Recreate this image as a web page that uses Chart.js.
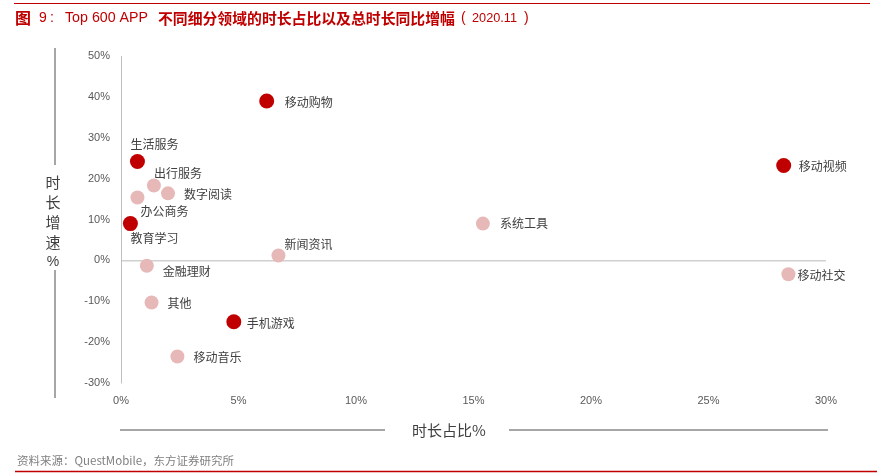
<!DOCTYPE html>
<html lang="zh">
<head>
    <meta charset="UTF-8">
    <title>Top 600 APP 不同细分领域的时长占比以及总时长同比增幅</title>
    <script src="https://cdn.jsdelivr.net/npm/chart.js"></script>
    <style>
        html, body { margin: 0; padding: 0; background: #fff; }
        #wrap { width: 883px; height: 474px; position: relative; }
    </style>
</head>
<body>
<div id="wrap"><canvas id="grafico"></canvas></div>
<script>
    // 数据：细分领域、时长占比(%)、时长同比增速(%)
    const categorias = ['移动购物', '生活服务', '出行服务', '数字阅读', '办公商务', '教育学习', '新闻资讯',
        '金融理财', '其他', '手机游戏', '移动音乐', '系统工具', '移动视频', '移动社交'];
    const shareX = [6.2, 0.7, 1.4, 2.0, 0.7, 0.4, 6.7, 1.1, 1.3, 4.8, 2.4, 15.4, 28.2, 28.4];
    const growthY = [39.0, 24.2, 18.3, 16.4, 15.4, 9.0, 1.2, -1.3, -10.3, -15.0, -23.5, 9.0, 23.2, -3.4];
    // 重点领域（深红色）
    const destaque = [true, true, false, false, false, true, false, false, false, true, false, false, true, false];
    const xTicks = [0, 5, 10, 15, 20, 25, 30];
    const yTicks = [-30, -20, -10, 0, 10, 20, 30, 40, 50];

    // 标签相对点的位置 (像素)
    const labelOffsets = [[18, 1], [-7, -17], [0, -12], [16, 1], [3, 14], [0, 15], [6, -11],
        [16, 6], [16, 1], [13, 2], [16, 1], [17, 0], [15, 1], [9, 1]];

    const RED = '#C00000';
    const PINK = '#E6B9B8';
    const cjk = '"Noto Sans CJK SC", "Liberation Sans", sans-serif';
    const latin = '"Liberation Sans", Arial, sans-serif';

    const pontos = shareX.map((x, i) => ({ x: x, y: growthY[i] }));

    // 按目标宽度写文字
    function textoLargura(ctx, texto, estilo, familia, x, y, largura) {
        ctx.font = estilo + ' 100px ' + familia;
        const tam = 100 * largura / ctx.measureText(texto).width;
        ctx.font = estilo + ' ' + tam.toFixed(2) + 'px ' + familia;
        ctx.fillText(texto, x, y);
    }

    // 画标题、坐标轴标题、来源和点标签
    const decoracao = {
        id: 'decoracao',
        afterDatasetsDraw(chart) {
            const ctx = chart.ctx;
            const meta = chart.getDatasetMeta(0);
            ctx.save();
            ctx.font = '12px ' + cjk;
            ctx.fillStyle = '#404040';
            ctx.textBaseline = 'middle';
            ctx.textAlign = 'left';
            meta.data.forEach((p, i) => {
                ctx.fillText(categorias[i], p.x + labelOffsets[i][0], p.y + labelOffsets[i][1]);
            });
            ctx.restore();
        },
        afterDraw(chart) {
            const ctx = chart.ctx;
            ctx.save();
            // 顶部和底部红线
            ctx.strokeStyle = RED;
            ctx.lineWidth = 1;
            ctx.beginPath();
            ctx.moveTo(14, 3.5);
            ctx.lineTo(870, 3.5);
            ctx.stroke();
            ctx.lineWidth = 1.5;
            ctx.beginPath();
            ctx.moveTo(15, 471.5);
            ctx.lineTo(877, 471.5);
            ctx.stroke();

            // 标题
            ctx.fillStyle = RED;
            ctx.textBaseline = 'middle';
            ctx.textAlign = 'left';
            ctx.font = 'bold 16px ' + cjk;
            ctx.fillText('图', 15, 18);
            ctx.font = '14px ' + latin;
            ctx.fillText('9', 39, 18);
            ctx.fillText(':', 50, 18);
            textoLargura(ctx, 'Top 600 APP', 'normal', latin, 65, 18, 83);
            textoLargura(ctx, '不同细分领域的时长占比以及总时长同比增幅', 'bold', cjk, 158, 18, 297);
            ctx.font = '14px ' + latin;
            ctx.fillText('(', 461, 18);
            textoLargura(ctx, '2020.11', 'normal', latin, 472, 18, 45);
            ctx.font = '14px ' + latin;
            ctx.fillText(')', 524, 18);

            // Y 轴标题（竖排）
            ctx.fillStyle = '#404040';
            ctx.textAlign = 'center';
            ctx.font = '15px ' + cjk;
            const yChars = ['时', '长', '增', '速'];
            yChars.forEach((c, i) => ctx.fillText(c, 53, 182 + i * 20));
            ctx.font = '14px ' + latin;
            ctx.fillText('%', 53, 262);
            ctx.strokeStyle = '#A6A6A6';
            ctx.lineWidth = 2;
            ctx.beginPath();
            ctx.moveTo(55, 48); ctx.lineTo(55, 165);
            ctx.moveTo(55, 270); ctx.lineTo(55, 398);
            ctx.stroke();

            // X 轴标题
            ctx.font = '15px ' + cjk;
            ctx.fillStyle = '#404040';
            ctx.textAlign = 'left';
            ctx.fillText('时长占比%', 412, 430);
            ctx.beginPath();
            ctx.moveTo(120, 430); ctx.lineTo(385, 430);
            ctx.moveTo(509, 430); ctx.lineTo(828, 430);
            ctx.stroke();

            // 来源
            ctx.fillStyle = '#7F7F7F';
            ctx.font = '11.5px ' + cjk;
            ctx.fillText('资料来源：QuestMobile，东方证券研究所', 17, 461);
            ctx.restore();
        }
    };

    const ctx = document.getElementById('grafico').getContext('2d');
    new Chart(ctx, {
        type: 'scatter',
        data: {
            datasets: [{
                data: pontos,
                pointRadius: destaque.map(d => d ? 7.5 : 7),
                pointHoverRadius: destaque.map(d => d ? 7.5 : 7),
                pointBackgroundColor: destaque.map(d => d ? RED : PINK),
                pointBorderWidth: 0
            }]
        },
        options: {
            responsive: true,
            maintainAspectRatio: false,
            animation: false,
            layout: { padding: { top: 56, right: 57, bottom: 61, left: 0 } },
            plugins: { legend: { display: false }, tooltip: { enabled: false } },
            scales: {
                x: {
                    type: 'linear',
                    min: xTicks[0],
                    max: xTicks[xTicks.length - 1],
                    afterBuildTicks: s => { s.ticks = xTicks.map(v => ({ value: v })); },
                    afterFit: s => { s.height = 30; },
                    grid: { display: false, drawTicks: false },
                    border: { display: false },
                    ticks: {
                        padding: 11,
                        color: '#595959',
                        font: { family: latin, size: 11 },
                        callback: v => v + '%'
                    }
                },
                y: {
                    type: 'linear',
                    min: yTicks[0],
                    max: yTicks[yTicks.length - 1],
                    afterBuildTicks: s => { s.ticks = yTicks.map(v => ({ value: v })); },
                    afterFit: s => { s.width = 121; },
                    grid: {
                        drawTicks: false,
                        color: c => c.tick && c.tick.value === 0 ? '#D0D0D0' : 'rgba(0,0,0,0)',
                        lineWidth: 1.5
                    },
                    border: { display: true, color: '#BFBFBF', width: 1 },
                    ticks: {
                        padding: 11,
                        color: '#595959',
                        font: { family: latin, size: 11 },
                        callback: v => v + '%'
                    }
                }
            }
        },
        plugins: [decoracao]
    });
</script>
</body>
</html>
